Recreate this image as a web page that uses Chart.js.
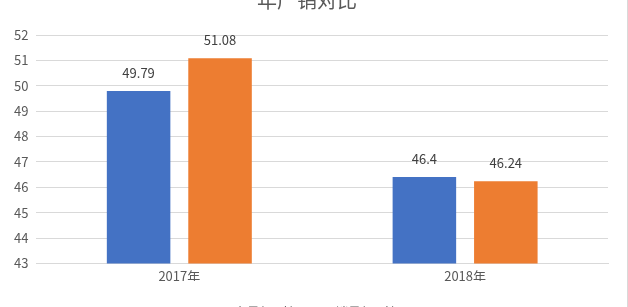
<!DOCTYPE html>
<html>
<head>
<meta charset="utf-8">
<script src="https://cdn.jsdelivr.net/npm/chart.js@4"></script>
<style>
    html, body { margin: 0; padding: 0; background: #fff; }
    #frame { position: relative; width: 627px; height: 307px; overflow: hidden; border-right: 1px solid #d9d9d9; }
    #wrap { position: absolute; left: 0; top: -14px; width: 627px; height: 343px; }
</style>
</head>
<body>
<div id="frame">
    <div id="wrap"><canvas id="myChart"></canvas></div>
</div>
<script>
const years = ['2017年', '2018年'];
const output = [49.79, 46.4];
const sales = [51.08, 46.24];
const seriesNames = ['产量(万吨)', '销量(万吨)'];
const chartTitle = '年产销对比';

const fontFamily = "'Noto Sans CJK SC', 'Noto Sans', sans-serif";

// draw the value above each bar
const valueLabels = {
    id: 'valueLabels',
    afterDatasetsDraw(chart) {
        const c = chart.ctx;
        c.save();
        c.font = `13px ${fontFamily}`;
        c.fillStyle = '#404040';
        c.textAlign = 'center';
        c.textBaseline = 'middle';
        chart.data.datasets.forEach((ds, i) => {
            chart.getDatasetMeta(i).data.forEach((bar, j) => {
                c.fillText(String(ds.data[j]), bar.x, bar.y - 18);
            });
        });
        c.restore();
    }
};

const ctx = document.getElementById('myChart').getContext('2d');

const myChart = new Chart(ctx, {
    type: 'bar',
    data: {
        labels: years,
        datasets: [{
            label: seriesNames[0],
            data: output,
            backgroundColor: '#4472C4'
        }, {
            label: seriesNames[1],
            data: sales,
            backgroundColor: '#ED7D31'
        }]
    },
    options: {
        responsive: true,
        maintainAspectRatio: false,
        animation: false,
        layout: {
            padding: { left: 6, right: 19, top: 0, bottom: 0 }
        },
        datasets: {
            bar: {
                categoryPercentage: 0.57,
                barPercentage: 0.78
            }
        },
        plugins: {
            title: {
                display: true,
                text: chartTitle,
                color: '#595959',
                font: { family: fontFamily, size: 20, weight: 'normal' },
                padding: { top: 2, bottom: 23 }
            },
            legend: {
                position: 'bottom',
                labels: {
                    color: '#595959',
                    font: { family: fontFamily, size: 13 },
                    boxWidth: 9,
                    boxHeight: 9,
                    padding: 25
                }
            },
            tooltip: { enabled: false }
        },
        scales: {
            x: {
                grid: { display: false },
                border: { display: true, color: '#d9d9d9' },
                ticks: {
                    color: '#595959',
                    font: { family: fontFamily, size: 13 },
                    padding: -3
                }
            },
            y: {
                min: 43,
                max: 52,
                grid: { color: '#d9d9d9', drawTicks: false },
                border: { display: false },
                ticks: {
                    stepSize: 1,
                    color: '#595959',
                    font: { family: fontFamily, size: 13 },
                    padding: 8
                }
            }
        }
    },
    plugins: [valueLabels]
});
</script>
</body>
</html>
